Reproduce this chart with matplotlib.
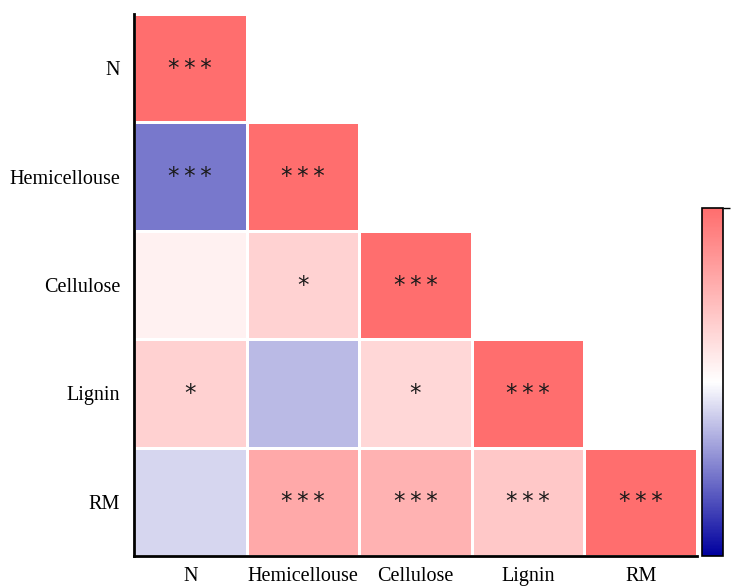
import matplotlib
matplotlib.use("Agg")
import matplotlib.pyplot as plt
from matplotlib.colors import LinearSegmentedColormap
import numpy as np

# variable names (rows top -> bottom, columns left -> right)
labels = ["N", "Hemicellouse", "Cellulose", "Lignin", "RM"]

# lower-triangle correlation values (NaN = blank)
row_N = [1.00, np.nan, np.nan, np.nan, np.nan]
row_hemi = [-0.53, 1.00, np.nan, np.nan, np.nan]
row_cell = [0.10, 0.31, 1.00, np.nan, np.nan]
row_lignin = [0.32, -0.27, 0.28, 1.00, np.nan]
row_rm = [-0.16, 0.59, 0.53, 0.38, 1.00]

# significance marks
sig_N = ["***", "", "", "", ""]
sig_hemi = ["***", "***", "", "", ""]
sig_cell = ["", "*", "***", "", ""]
sig_lignin = ["*", "", "*", "***", ""]
sig_rm = ["", "***", "***", "***", "***"]

corr = np.array([row_N, row_hemi, row_cell, row_lignin, row_rm])
sig = [sig_N, sig_hemi, sig_cell, sig_lignin, sig_rm]

cmap = LinearSegmentedColormap.from_list(
    "bwr_soft", [(0.0, 0.0, 0.62), (1.0, 1.0, 1.0), (1.0, 0.43, 0.43)])

plt.rcParams['font.family'] = ['Liberation Serif', 'DejaVu Serif']

fig = plt.figure(figsize=(7.36, 5.86), dpi=100)
ax = fig.add_axes([134 / 736, 30 / 586, 563 / 736, 542 / 586])

n = len(labels)
masked = np.ma.masked_invalid(corr)
mesh = ax.pcolormesh(np.arange(n + 1), np.arange(n + 1), masked, cmap=cmap,
                     vmin=-1, vmax=1, edgecolors="white", linewidth=1.0)
ax.set_xlim(0, n)
ax.set_ylim(n, 0)

for i in range(n):
    for j in range(n):
        if sig[i][j]:
            # thin gaps between the stars, as in the original
            ax.text(j + 0.5, i + 0.5, "\u2009".join(sig[i][j]), ha="center", va="center",
                    fontsize=16.5, color="#1a1a1a", family="DejaVu Sans")

ax.set_xticks(np.arange(n) + 0.5)
ax.set_xticklabels(labels, fontsize=14.5)
ax.set_yticks(np.arange(n) + 0.5)
ax.set_yticklabels(labels, fontsize=14.5)
ax.tick_params(axis="y", length=0, pad=10)
ax.tick_params(axis="x", length=0, pad=8)
for s in ["top", "right"]:
    ax.spines[s].set_visible(False)
for s in ["left", "bottom"]:
    ax.spines[s].set_linewidth(2)

cax = fig.add_axes([702 / 736, 30 / 586, 21 / 736, 348 / 586])
cb = fig.colorbar(mesh, cax=cax, ticks=[1])
cb.ax.set_yticklabels([""])
cb.ax.tick_params(length=5, width=1)
cb.outline.set_linewidth(1.2)

fig.savefig("out.png", dpi=100)
